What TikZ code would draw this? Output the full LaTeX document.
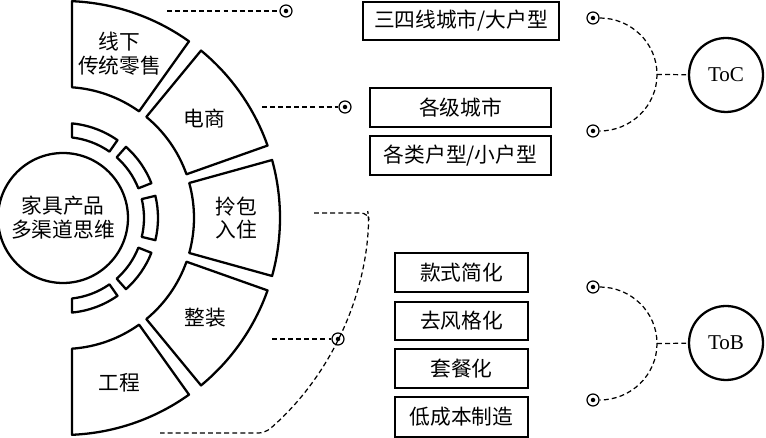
\documentclass[tikz,border=0pt]{standalone}
\usepackage{fontspec}
\setmainfont{Liberation Serif}
\newfontfamily\cjk{Noto Sans CJK SC}
\usepackage{tikz}
\usetikzlibrary{calc}

\tikzset{
  ring/.style={draw=black, line width=1.3pt, line join=round},
  tag/.style={font=\cjk\fontsize{11.8}{13.5}\selectfont, align=center, inner sep=0pt},
  itembox/.style={draw, line width=1.1pt, inner sep=0pt, minimum height=0.77cm,
                  font=\cjk\fontsize{11.8}{14}\selectfont},
  hub/.style={circle, draw, line width=1.3pt, minimum size=1.48cm, inner sep=0pt,
              font=\fontsize{12}{14}\selectfont},
  tagdot/.style={circle, draw, line width=0.7pt, minimum size=0.24cm, inner sep=0pt,
                 path picture={\fill (path picture bounding box.center) circle (0.045cm);}},
  link/.style={line width=0.7pt, dash pattern=on 2.8pt off 1.8pt},
}

\begin{document}
\begin{tikzpicture}[x=0.02cm, y=0.02cm, line cap=butt]
  \useasboundingbox (0,0) rectangle (766,438);
  \coordinate (O) at (63,220);
  \coordinate (O2) at (69,232);

  % ── channel sectors (outer ring) ──────────────────────────────────────
  \begin{scope}[shift={(O)}]
    \draw[ring] (54.5:131) arc[start angle=54.5, end angle=86.06, radius=131]
      -- (87.62:217) arc[start angle=87.62, end angle=54.5, radius=217] -- cycle;
    \foreach \c in {35,0,-35}
      \draw[ring] ({\c-15.5}:131) arc[start angle=\c-15.5, end angle=\c+15.5, radius=131]
        -- ({\c+15.5}:217) arc[start angle=\c+15.5, end angle=\c-15.5, radius=217] -- cycle;
    \draw[ring] (-54.5:131) arc[start angle=-54.5, end angle=-86.06, radius=131]
      -- (-87.62:217) arc[start angle=-87.62, end angle=-54.5, radius=217] -- cycle;

    % ── thin segments (inner ring) ──────────────────────────────────────
    \draw[ring] (55:81) arc[start angle=55, end angle=83.6, radius=81]
      -- (84.56:95) arc[start angle=84.56, end angle=55, radius=95] -- cycle;
    \foreach \c in {35,0,-35}
      \draw[ring] ({\c-13.5}:81) arc[start angle=\c-13.5, end angle=\c+13.5, radius=81]
        -- ({\c+13.5}:95) arc[start angle=\c+13.5, end angle=\c-13.5, radius=95] -- cycle;
    \draw[ring] (-55:81) arc[start angle=-55, end angle=-83.6, radius=81]
      -- (-84.56:95) arc[start angle=-84.56, end angle=-55, radius=95] -- cycle;

    \node[tag] (s1) at (71:174)  {线下\\传统零售};
    \node[tag] (s2) at (35:173)  {电商};
    \node[tag] (s3) at (0:173)   {拎包\\入住};
    \node[tag] (s4) at (-35:174) {整装};
    \node[tag] (s5) at (-71:174) {工程};
  \end{scope}

  \node[circle, draw, line width=1.3pt, minimum size=2.6cm, inner sep=0pt,
        font=\cjk\fontsize{11.8}{13.6}\selectfont, align=center] (core) at (O)
    {家具产品\\多渠道思维};

  % ── markers and dashed leaders ────────────────────────────────────────
  \node[tagdot] (d1) at (286,427) {};
  \node[tagdot] (d2) at (345,331) {};
  \node[tagdot] (d3) at (338,99) {};
  \coordinate (m1) at (167,427);
  \coordinate (m2) at (262,331);
  \coordinate (m3) at (314,225);
  \coordinate (m4) at (272,99);
  \coordinate (m5) at (160,5);
  \draw[link] (m1) -- (d1);
  \draw[link] (m2) -- (d2);
  \draw[link] (m4) -- (d3);
  \draw[link, rounded corners=4pt] (m3) -- (368,225) -- ($(O2)+(-2.3:300)$)
    arc[start angle=-2.3, end angle=-49.2, radius=300] -- (m5);

  % ── feature boxes ─────────────────────────────────────────────────────
  \node[itembox, minimum width=3.92cm] (b1) at (461,417)   {三四线城市/大户型};
  \node[itembox, minimum width=3.62cm] (b2) at (460.5,330.5) {各级城市};
  \node[itembox, minimum width=3.62cm] (b3) at (460.5,282.5) {各类户型/小户型};
  \node[itembox, minimum width=2.66cm] (b4) at (461.5,165.5) {款式简化};
  \node[itembox, minimum width=2.66cm] (b5) at (461.5,117)   {去风格化};
  \node[itembox, minimum width=2.66cm] (b6) at (461.5,69.5)  {套餐化};
  \node[itembox, minimum width=2.66cm, minimum height=0.8cm] (b7) at (461.5,21) {低成本制造};

  % ── ToC / ToB ─────────────────────────────────────────────────────────
  \node[tagdot] (r1) at (593,420) {};
  \node[tagdot] (r2) at (593,307) {};
  \node[tagdot] (r3) at (593,151) {};
  \node[tagdot] (r4) at (593,38) {};
  \node[hub] (toc) at (726,363) {ToC};
  \node[hub] (tob) at (726,95)  {ToB};
  \coordinate (c1) at (657,363.5);
  \coordinate (c2) at (657,94.5);
  \draw[link] (r1.east) to[out=0, in=90] (c1) to[out=-90, in=0] (r2.east);
  \draw[link] (r3.east) to[out=0, in=90] (c2) to[out=-90, in=0] (r4.east);
  \draw[link] (c1) -- (toc);
  \draw[link] (c2) -- (tob);
\end{tikzpicture}
\end{document}
